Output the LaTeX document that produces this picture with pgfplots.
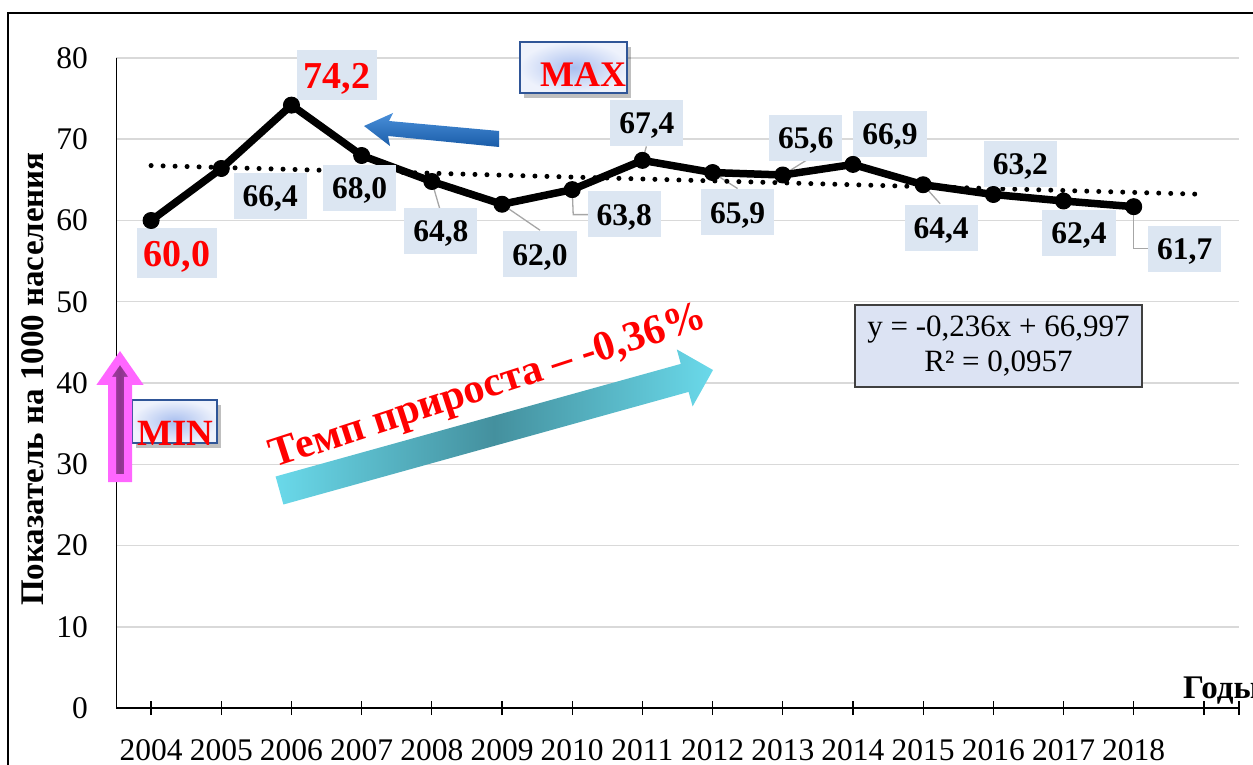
\documentclass[border=0pt]{standalone}
\usepackage{fontspec}
\setmainfont{Liberation Serif}
\usepackage{pgfplots}
\pgfplotsset{compat=1.18}

\definecolor{lblfill}{HTML}{DCE6F2}
\definecolor{gridc}{HTML}{D9D9D9}
\definecolor{eqfill}{HTML}{DCE3F3}
\definecolor{boxin}{HTML}{A9BFEF}
\definecolor{boxout}{HTML}{EEF2FC}
\definecolor{boxedge}{HTML}{2F5597}
\definecolor{magout}{HTML}{FF66FF}
\definecolor{maginner}{HTML}{8E358E}
\definecolor{bluea}{HTML}{4A90DA}
\definecolor{blueb}{HTML}{1A5CA8}
\definecolor{cyanl}{HTML}{6AD9EA}
\definecolor{cyand}{HTML}{44909E}
\definecolor{leader}{HTML}{A6A6A6}
\newcommand{\fs}[1]{\fontsize{#1}{#1}\selectfont}

\tikzset{
  lbl/.style={fill=lblfill, font=\bfseries\fs{31.5}, inner xsep=9pt, inner ysep=10pt, text height=24pt, text depth=2pt},
  rlbl/.style={fill=lblfill, text=red, font=\bfseries\fs{38}, inner xsep=7pt, inner ysep=9.5pt, text height=29pt, text depth=2pt},
  ld/.style={draw=leader, line width=1.3pt},
}

\begin{document}
\begin{tikzpicture}
\path[use as bounding box, clip] (0,0) rectangle (1253pt,764pt);
\begin{axis}[
  at={(116pt,56pt)}, anchor=south west,
  scale only axis, width=1123pt, height=650pt,
  xmin=2003.5, xmax=2019.5, ymin=0, ymax=80,
  axis x line*=bottom, axis y line*=left,
  every outer x axis line/.style={-}, every outer y axis line/.style={-},
  every inner x axis line/.style={-}, every inner y axis line/.style={-},
  x axis line style={line width=1.5pt, -},
  y axis line style={line width=1pt, -},
  xtick={2004,2005,2006,2007,2008,2009,2010,2011,2012,2013,2014,2015,2016,2017,2018,2019,2019.5},
  xticklabels={2004,2005,2006,2007,2008,2009,2010,2011,2012,2013,2014,2015,2016,2017,2018,,},
  ytick={0,10,20,30,40,50,60,70,80},
  xtick align=center, major tick length=14pt,
  xtick style={black, line width=1.3pt},
  ytick style={draw=none},
  /pgf/number format/assume math mode=true,
  ticklabel style={font=\fs{31.5}},
  xticklabel style={inner sep=0pt, anchor=north, yshift=-24pt},
  yticklabel style={inner sep=0pt, anchor=east, xshift=-28pt},
  ymajorgrids, major grid style={draw=gridc, line width=1.5pt},
  clip=false,
]
% leader lines
\draw[ld] (axis cs:2008,64.8) -- ++(8pt,-27.5pt);
\draw[ld] (axis cs:2009,62.0) -- ++(38pt,-26pt);
\draw[ld] (axis cs:2010,63.8) -- ++(1pt,-25pt) -- ++(15pt,0pt);
\draw[ld] (axis cs:2011,67.4) -- ++(4pt,14pt);
\draw[ld] (axis cs:2012,65.9) -- ++(25pt,-16pt);
\draw[ld] (axis cs:2013,65.6) -- ++(24pt,15pt);
\draw[ld] (axis cs:2015,64.4) -- ++(17pt,-19pt);
\draw[ld] (axis cs:2018,61.7) -- ++(0pt,-42pt) -- ++(14pt,0pt);

\addplot[black, line width=7.5pt, line join=round, mark=*, mark size=8pt, mark options={line width=1pt}] coordinates {
  (2004,60.0)(2005,66.4)(2006,74.2)(2007,68.0)(2008,64.8)
  (2009,62.0)(2010,63.8)(2011,67.4)(2012,65.9)(2013,65.6)
  (2014,66.9)(2015,64.4)(2016,63.2)(2017,62.4)(2018,61.7)
};
% linear trend y = -0,236x + 66,997 (x = 1 for 2004)
\addplot[black, line width=5pt, line cap=round, dash pattern=on 0pt off 12pt] coordinates {
  (2004,66.761)(2019,63.221)
};

\node[rlbl, xshift=26pt, yshift=-32.5pt] at (axis cs:2004,60.0) {60,0};
\node[lbl, xshift=49pt, yshift=-27.5pt] at (axis cs:2005,66.4) {66,4};
\node[rlbl, xshift=45.5pt, yshift=30pt] at (axis cs:2006,74.2) {74,2};
\node[lbl, xshift=-2pt, yshift=-32.5pt] at (axis cs:2007,68.0) {68,0};
\node[lbl, xshift=9pt, yshift=-49.5pt] at (axis cs:2008,64.8) {64,8};
\node[lbl, xshift=38pt, yshift=-50pt] at (axis cs:2009,62.0) {62,0};
\node[lbl, xshift=52pt, yshift=-24.5pt] at (axis cs:2010,63.8) {63,8};
\node[lbl, xshift=4.5pt, yshift=37.5pt] at (axis cs:2011,67.4) {67,4};
\node[lbl, xshift=25pt, yshift=-39.5pt] at (axis cs:2012,65.9) {65,9};
\node[lbl, xshift=23pt, yshift=37pt] at (axis cs:2013,65.6) {65,6};
\node[lbl, xshift=37pt, yshift=30.5pt] at (axis cs:2014,66.9) {66,9};
\node[lbl, xshift=18pt, yshift=-43pt] at (axis cs:2015,64.4) {64,4};
\node[lbl, xshift=27pt, yshift=30.5pt] at (axis cs:2016,63.2) {63,2};
\node[lbl, xshift=15.5pt, yshift=-32pt] at (axis cs:2017,62.4) {62,4};
\node[lbl, xshift=51pt, yshift=-42pt] at (axis cs:2018,61.7) {61,7};
\end{axis}

% annotations, in pixel coordinates of the reference (y downwards)
\begin{scope}[x=1pt, y=-1pt, yshift=764pt]
  \draw[line width=2pt] (8,800) -- (8,13) -- (1300,13);

  \node[rotate=90, anchor=base, inner sep=0pt, font=\bfseries\fs{33}] at (43,379) {Показатель на 1000 населения};
  \node[anchor=base west, inner sep=0pt, font=\bfseries\fs{33}] at (1183,698) {Годы};

  % MAX
  \fill[black, opacity=0.25] (524,47) rectangle (631,98);
  \shade[inner color=boxin, outer color=boxout] (520,42) rectangle (627,93);
  \draw[boxedge, line width=1.8pt] (520,42) rectangle (627,93);
  \node[anchor=base west, inner sep=0pt, text=red, font=\bfseries\fs{36}] at (540,87) {MAX};
  \shade[top color=bluea, bottom color=blueb]
    (364,126) -- (393,113) -- (389,121) -- (499,131) -- (499,147) -- (388,136) -- (390,146) -- cycle;

  % MIN
  \fill[black, opacity=0.25] (136,405) rectangle (221,448);
  \shade[inner color=boxin, outer color=boxout] (132,400) rectangle (217,443);
  \draw[boxedge, line width=1.8pt] (132,400) rectangle (217,443);
  \node[anchor=base west, inner sep=0pt, text=red, font=\bfseries\fs{37}] at (137,445) {MIN};
  \shade[left color=maginner!70!magout, right color=maginner!70!magout, middle color=maginner]
    (112,478) -- (112,381) -- (104,381) -- (120,358) -- (136,381) -- (128,381) -- (128,478) -- cycle;
  \draw[magout, line width=8pt, line join=miter]
    (112,478) -- (112,381) -- (104,381) -- (120,358) -- (136,381) -- (128,381) -- (128,478) -- cycle;

  % growth rate arrow
  \shade[left color=cyanl, right color=cyanl, middle color=cyand]
    (275.6,476.5) -- (680.8,363.9) -- (676.8,349.4) -- (713,370) -- (692.6,406.4) -- (688.6,391.9) -- (283.4,504.5) -- cycle;
  \node[rotate=18, anchor=base west, inner sep=0pt, text=red, font=\bfseries\fs{42}] at (274,468) {Темп прироста – -0,36\%};

  % trend equation
  \node[draw=black!75, line width=1.2pt, fill=eqfill, minimum width=287pt, minimum height=82pt, align=center, inner sep=0pt,
        font=\fontsize{31}{35}\selectfont] at (998.5,346) {y = -0,236x + 66,997\\R² = 0,0957};
\end{scope}
\end{tikzpicture}
\end{document}
